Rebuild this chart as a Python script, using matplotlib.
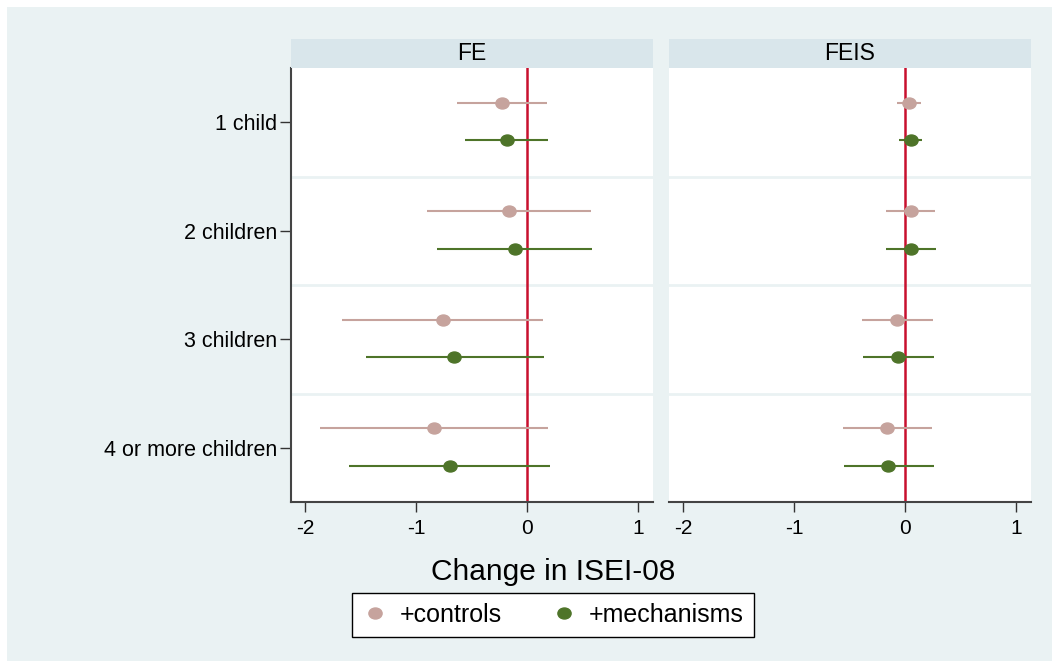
import matplotlib.pyplot as plt
from matplotlib.patches import Rectangle
from matplotlib.lines import Line2D
from matplotlib.path import Path
from matplotlib.transforms import Affine2D

plt.rcParams['font.family'] = ['Liberation Sans', 'DejaVu Sans']

categories = ['1 child', '2 children', '3 children', '4 or more children']
panels = ['FE', 'FEIS']

# point estimates and confidence bounds, one list per panel
fe_ctrl = [-0.23, -0.16, -0.76, -0.84]
fe_ctrl_lo = [-0.63, -0.90, -1.67, -1.87]
fe_ctrl_hi = [0.18, 0.58, 0.145, 0.19]
fe_mech = [-0.18, -0.11, -0.66, -0.70]
fe_mech_lo = [-0.56, -0.81, -1.45, -1.61]
fe_mech_hi = [0.19, 0.585, 0.155, 0.21]

feis_ctrl = [0.035, 0.05, -0.07, -0.165]
feis_ctrl_lo = [-0.07, -0.175, -0.385, -0.565]
feis_ctrl_hi = [0.145, 0.27, 0.255, 0.24]
feis_mech = [0.05, 0.057, -0.063, -0.155]
feis_mech_lo = [-0.06, -0.17, -0.38, -0.555]
feis_mech_hi = [0.15, 0.275, 0.26, 0.26]

xticks = [-2, -1, 0, 1]

c_ctrl = '#C6A39D'
c_mech = '#4E7429'
bg = '#EAF2F3'
strip_col = '#D9E6EB'

# slightly wide dot, like the stretched original
dot = Path.unit_circle().transformed(Affine2D().scale(1.2, 1.0))
ms = 9.5

W, H = 1052, 661
fig = plt.figure(figsize=(W / 100, H / 100), dpi=100, facecolor='white')
fig.patches.append(Rectangle((7 / W, 0), 1, 1 - 7 / H, transform=fig.transFigure,
                             facecolor=bg, edgecolor='none', zorder=-10))

data = {
    'FE': (fe_ctrl, fe_ctrl_lo, fe_ctrl_hi, fe_mech, fe_mech_lo, fe_mech_hi),
    'FEIS': (feis_ctrl, feis_ctrl_lo, feis_ctrl_hi, feis_mech, feis_mech_lo, feis_mech_hi),
}
lefts = [291, 669]
pw = 362
top, bot = 68, 502

for i, name in enumerate(panels):
    ax = fig.add_axes([lefts[i] / W, (H - bot) / H, pw / W, (bot - top) / H])
    ax.set_facecolor('white')
    ctrl, clo, chi, mech, mlo, mhi = data[name]
    y = list(range(1, len(categories) + 1))
    for k in range(1, len(categories)):
        ax.axhline(k + 0.5, color=bg, lw=2, zorder=1)
    ax.axvline(0, color='#C8102E', lw=1.8, zorder=2)
    yc = [v - 0.18 for v in y]
    ym = [v + 0.165 for v in y]
    ax.hlines(yc, clo, chi, color=c_ctrl, lw=1.5, zorder=3)
    ax.plot(ctrl, yc, ls='none', marker=dot, color=c_ctrl, ms=ms, zorder=4)
    ax.hlines(ym, mlo, mhi, color=c_mech, lw=1.5, zorder=3)
    ax.plot(mech, ym, ls='none', marker=dot, color=c_mech, ms=ms, zorder=4)

    ax.set_xlim(-2.13, 1.135)
    ax.set_ylim(4.5, 0.5)
    ax.set_xticks(xticks)
    ax.set_xticklabels([str(t) for t in xticks], fontsize=15)
    ax.tick_params(axis='x', length=7, width=1, color='#333333', pad=5)
    for s in ['top', 'right']:
        ax.spines[s].set_visible(False)
    ax.spines['bottom'].set_color('#444444')
    ax.spines['bottom'].set_linewidth(1.5)
    if i == 0:
        ax.set_yticks(y)
        ax.set_yticklabels(categories, fontsize=15.5)
        ax.tick_params(axis='y', length=8, width=1, color='#333333', pad=2)
        ax.spines['left'].set_color('#444444')
        ax.spines['left'].set_linewidth(1.5)
    else:
        ax.set_yticks([])
        ax.spines['left'].set_visible(False)

    # facet strip
    sx = fig.add_axes([lefts[i] / W, (H - 68) / H, pw / W, 29 / H])
    sx.set_facecolor(strip_col)
    sx.set_xticks([])
    sx.set_yticks([])
    for s in sx.spines.values():
        s.set_visible(False)
    sx.text(0.5, 0.5, name, ha='center', va='center', fontsize=16.5)

fig.text(553 / W, (H - 572) / H, 'Change in ISEI-08', ha='center', va='center', fontsize=21.5)

handles = [
    Line2D([], [], marker=dot, ls='none', color=c_ctrl, ms=ms),
    Line2D([], [], marker=dot, ls='none', color=c_mech, ms=ms),
]
leg = fig.legend(handles, ['+controls', '+mechanisms'], loc='center',
                 bbox_to_anchor=(553 / W, (H - 615) / H), ncol=2, fontsize=18,
                 frameon=True, fancybox=False, edgecolor='black', framealpha=1,
                 handletextpad=0.5, columnspacing=2.0, borderpad=0.4, handlelength=1.0)
leg.get_frame().set_linewidth(1.0)

fig.savefig('out.png', dpi=100, facecolor='white')
